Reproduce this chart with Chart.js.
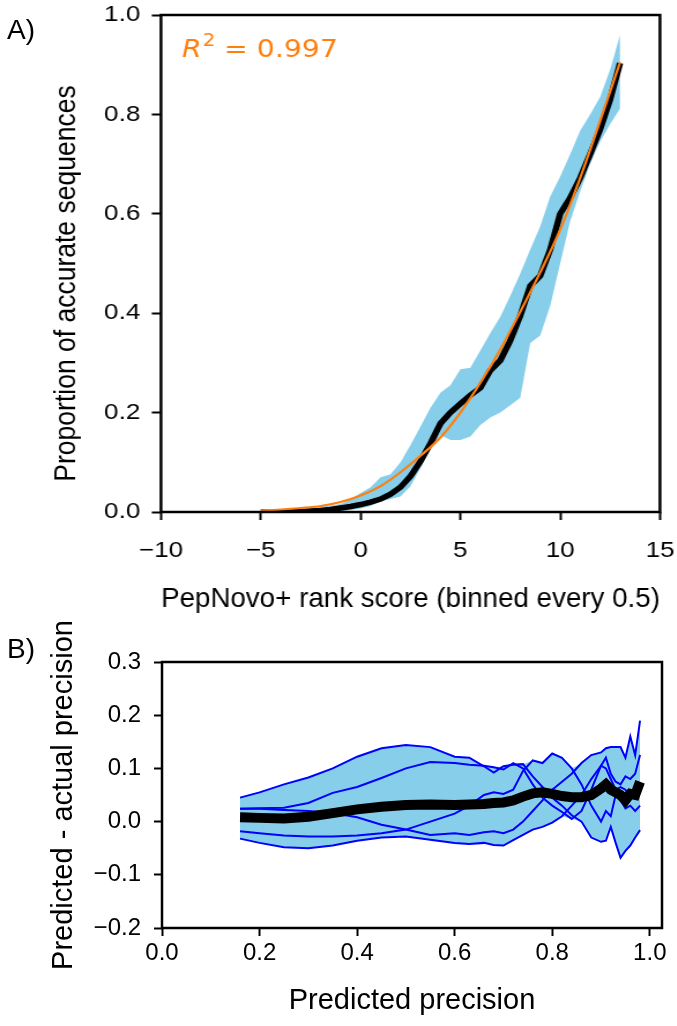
<!DOCTYPE html>
<html><head><meta charset="utf-8">
<script src="https://cdn.jsdelivr.net/npm/chart.js@4.4.1/dist/chart.umd.min.js"></script>
<style>
html,body{margin:0;padding:0;background:#fff;}
body{width:677px;height:1026px;position:relative;overflow:hidden;font-family:"Liberation Sans",Arial,sans-serif;}
#p1{position:absolute;left:0;top:0;width:586px;height:620px;transform:scaleX(1.155);transform-origin:0 0;}
#p2{position:absolute;left:0;top:620px;width:677px;height:406px;}
.lab{position:absolute;font-size:28px;color:#000;line-height:1;}
</style></head><body>
<div id="p1"><canvas id="c1"></canvas></div>
<div id="p2"><canvas id="c2"></canvas></div>
<div class="lab" style="left:7px;top:16px">A)</div>
<div class="lab" style="left:7px;top:635px">B)</div>
<script>
// ---------- Panel A data ----------
const scoreBins = [-5,-4.5,-4,-3.5,-3,-2.5,-2,-1.5,-1,-0.5,0,0.5,1,1.5,2,2.5,3,3.5,4,4.5,5,5.5,6,6.5,7,7.5,8,8.5,9,9.5,10,10.5,11,11.5,12,12.5,13];
const propAccurate = [0,0,0,0,0.001,0.002,0.003,0.005,0.008,0.011,0.015,0.02,0.026,0.036,0.05,0.072,0.102,0.138,0.178,0.2,0.218,0.235,0.25,0.285,0.305,0.345,0.395,0.455,0.475,0.528,0.6,0.632,0.672,0.72,0.77,0.83,0.903];
const propUpper = [0,0.001,0.003,0.005,0.007,0.009,0.011,0.013,0.016,0.025,0.038,0.05,0.07,0.076,0.1,0.135,0.172,0.21,0.24,0.255,0.287,0.29,0.325,0.36,0.393,0.435,0.48,0.528,0.575,0.635,0.675,0.72,0.767,0.8,0.835,0.89,0.96];
const propLower = [0,0,0,0,0,0,0,0,0.001,0.004,0.007,0.012,0.021,0.026,0.031,0.052,0.088,0.128,0.155,0.145,0.145,0.152,0.175,0.19,0.2,0.215,0.23,0.34,0.355,0.415,0.5,0.585,0.645,0.7,0.745,0.78,0.812];
const fitX = [-5,-4,-3,-2,-1,0,1,2,3,4,5,6,7,8,9,10,11,12,13];
const fitY = [0.003,0.005,0.008,0.012,0.02,0.033,0.052,0.08,0.113,0.15,0.2,0.26,0.327,0.403,0.482,0.568,0.672,0.787,0.905];
const xTicksA = [-10,-5,0,5,10,15];
const yTicksA = [0,0.2,0.4,0.6,0.8,1.0];

// ---------- Panel B data ----------
const predPrec = [0.16,0.2,0.25,0.3,0.35,0.4,0.45,0.5,0.55,0.6,0.63,0.66,0.68,0.7,0.72,0.74,0.76,0.78,0.8,0.82,0.84,0.86,0.88,0.9,0.91,0.92,0.93,0.94,0.95,0.96,0.97,0.98];
const foldA = [0.045,0.055,0.07,0.083,0.1,0.122,0.138,0.144,0.14,0.122,0.12,0.104,0.092,0.104,0.107,0.108,0.085,0.065,0.045,0.03,0.012,0.0,-0.03,-0.038,-0.036,-0.01,-0.04,-0.068,-0.055,-0.045,-0.03,-0.016];
const foldB = [0.024,0.025,0.026,0.035,0.054,0.065,0.082,0.1,0.112,0.11,0.107,0.105,0.102,0.098,0.11,0.1,0.07,0.045,0.03,0.018,0.005,0.02,0.06,0.105,0.12,0.09,0.075,0.07,0.085,0.08,0.09,0.125];
const foldC = [0.024,0.024,0.022,0.02,0.016,0.008,-0.006,-0.015,-0.025,-0.022,-0.025,-0.02,-0.018,-0.022,-0.015,0.0,0.02,0.04,0.06,0.075,0.09,0.11,0.125,0.13,0.138,0.14,0.14,0.14,0.12,0.16,0.125,0.19];
const foldD = [-0.018,-0.022,-0.026,-0.028,-0.028,-0.026,-0.022,-0.015,0.0,0.015,0.03,0.05,0.055,0.052,0.06,0.095,0.115,0.11,0.128,0.12,0.1,0.07,0.03,0.0,0.02,0.01,0.05,0.04,0.025,0.03,0.02,0.03];
const foldE = [-0.032,-0.04,-0.048,-0.05,-0.045,-0.036,-0.03,-0.028,-0.034,-0.04,-0.042,-0.04,-0.044,-0.045,-0.035,-0.025,-0.015,-0.01,-0.002,0.01,0.03,0.05,0.08,0.105,0.1,0.08,0.06,0.065,0.06,0.045,0.05,0.07];
const meanDiff = [0.008,0.007,0.006,0.009,0.016,0.023,0.028,0.031,0.032,0.031,0.032,0.033,0.035,0.036,0.04,0.047,0.053,0.055,0.052,0.048,0.046,0.046,0.05,0.062,0.07,0.06,0.055,0.05,0.04,0.052,0.05,0.075];
const xTicksB = [0,0.2,0.4,0.6,0.8,1.0];
const yTicksB = [-0.2,-0.1,0,0.1,0.2,0.3];

// ---------- helpers ----------
const pts = (xs, ys) => xs.map((x, i) => ({x, y: ys[i]}));
const folds = [foldA, foldB, foldC, foldD, foldE];
const bandHi = predPrec.map((_, i) => Math.max(...folds.map(f => f[i])));
const bandLo = predPrec.map((_, i) => Math.min(...folds.map(f => f[i])));
const fmt = (v, d) => { if (Math.abs(v) < 1e-9) v = 0; const s = Math.abs(v).toFixed(d); return v < 0 ? '\u2212' + s : s; };
const FONT = '"Liberation Sans", Arial, sans-serif';
const SKY = '#87ceeb';

const frame = {id:'frame', afterDatasetsDraw(chart){
  const {ctx, chartArea:a} = chart; ctx.save();
  ctx.strokeStyle = '#000'; ctx.lineWidth = 2.5;
  ctx.strokeRect(a.left, a.top, a.right - a.left, a.bottom - a.top);
  ctx.restore();
}};
const r2 = {id:'r2', afterDraw(chart){
  const {ctx, chartArea:a} = chart; ctx.save();
  ctx.fillStyle = '#ff7f0e'; ctx.textBaseline = 'alphabetic';
  let x = a.left + 18, y = a.top + 42;
  ctx.font = 'italic 24.5px "DejaVu Sans"'; ctx.fillText('R', x, y);
  x += ctx.measureText('R').width + 1;
  ctx.font = '17px "DejaVu Sans"'; ctx.fillText('2', x, y - 11);
  x += ctx.measureText('2').width;
  ctx.font = '24.5px "DejaVu Sans"'; ctx.fillText(' = 0.997', x, y);
  ctx.restore();
}};
// y-axis title of panel A, placed a little below the axis centre as in the figure
const yTitleA = {id:'yTitleA', afterDraw(chart){
  const {ctx, chartArea:a} = chart; ctx.save();
  ctx.translate(58, (a.top + a.bottom) / 2 + 20);
  ctx.rotate(-Math.PI / 2);
  ctx.font = '26.5px ' + FONT; ctx.fillStyle = '#000';
  ctx.textAlign = 'center'; ctx.textBaseline = 'middle';
  ctx.fillText('Proportion of accurate sequences', 0, 0);
  ctx.restore();
}};

function axis(opts, fixW, fixH){
  return Object.assign({
    type:'linear',
    grid:{display:true, drawOnChartArea:false, drawTicks:true, tickLength:8, tickWidth:2, tickColor:'#000'},
    border:{display:false},
    afterFit:s=>{
      if (fixW) s.width = fixW;
      if (fixH) s.height = fixH;
      s.paddingTop = 0; s.paddingBottom = 0; s.paddingLeft = 0; s.paddingRight = 0;
    }
  }, opts);
}

// ---------- Chart A ----------
new Chart(document.getElementById('c1'), {
  type:'line',
  data:{datasets:[
    {data:pts(fitX, fitY), borderColor:'#ff7f0e', borderWidth:2.2, cubicInterpolationMode:'monotone', pointRadius:0, fill:false, order:0},
    {data:pts(scoreBins, propAccurate), borderColor:'#000', borderWidth:5.5, pointRadius:0, fill:false, order:1, tension:0},
    {data:pts(scoreBins, propUpper), borderColor:'rgba(0,0,0,0)', borderWidth:0, pointRadius:0, fill:3, backgroundColor:SKY, order:2, tension:0},
    {data:pts(scoreBins, propLower), borderColor:'rgba(0,0,0,0)', borderWidth:0, pointRadius:0, fill:false, order:3, tension:0},
  ]},
  options:{
    responsive:true, maintainAspectRatio:false, animation:false, devicePixelRatio:1,
    layout:{padding:{left:0, right:14.6, top:15, bottom:0}},
    plugins:{legend:{display:false}, tooltip:{enabled:false}},
    scales:{
      x: axis({min:-10, max:15,
        afterBuildTicks:s=>{s.ticks = xTicksA.map(v=>({value:v}));},
        ticks:{color:'#000', font:{family:FONT, size:22.5}, padding:17, maxRotation:0, callback:v=>fmt(v,0)},
        title:{display:true, text:'PepNovo+ rank score (binned every 0.5)', color:'#000', font:{family:FONT, size:28.3}, padding:{top:0, bottom:4}}}, 0, 108),
      y: axis({min:0, max:1,
        afterBuildTicks:s=>{s.ticks = yTicksA.map(v=>({value:v}));},
        ticks:{color:'#000', font:{family:FONT, size:22.5}, padding:10, callback:v=>fmt(v,1)},
        title:{display:false}}, 139.4, 0),
    }
  },
  plugins:[frame, r2, yTitleA]
});

// ---------- Chart B ----------
const dsB = [{data:pts(predPrec, meanDiff), borderColor:'#000', borderWidth:10, pointRadius:0, fill:false, order:0, tension:0}];
folds.forEach(f => dsB.push({data:pts(predPrec, f), borderColor:'#0000ff', borderWidth:2, pointRadius:0, fill:false, order:1, tension:0}));
dsB.push({data:pts(predPrec, bandHi), borderColor:'rgba(0,0,0,0)', borderWidth:0, pointRadius:0, fill:7, backgroundColor:SKY, order:2, tension:0});
dsB.push({data:pts(predPrec, bandLo), borderColor:'rgba(0,0,0,0)', borderWidth:0, pointRadius:0, fill:false, order:3, tension:0});

new Chart(document.getElementById('c2'), {
  type:'line',
  data:{datasets:dsB},
  options:{
    responsive:true, maintainAspectRatio:false, animation:false, devicePixelRatio:1,
    layout:{padding:{left:0, right:15, top:42, bottom:0}},
    plugins:{legend:{display:false}, tooltip:{enabled:false}},
    scales:{
      x: axis({min:0, max:1.025,
        afterBuildTicks:s=>{s.ticks = xTicksB.map(v=>({value:v}));},
        ticks:{color:'#000', font:{family:FONT, size:24}, padding:3, maxRotation:0, callback:v=>fmt(v,1)},
        title:{display:true, text:'Predicted precision', color:'#000', font:{family:FONT, size:29}, padding:{top:0, bottom:8}}}, 0, 98),
      y: axis({min:-0.2, max:0.3,
        afterBuildTicks:s=>{s.ticks = yTicksB.map(v=>({value:v}));},
        ticks:{color:'#000', font:{family:FONT, size:24}, padding:13, callback:v=>fmt(v,1)},
        title:{display:true, text:'Predicted - actual precision', color:'#000', font:{family:FONT, size:29}, padding:{top:47, bottom:0}}}, 162, 0),
    }
  },
  plugins:[frame]
});
</script>
</body></html>
